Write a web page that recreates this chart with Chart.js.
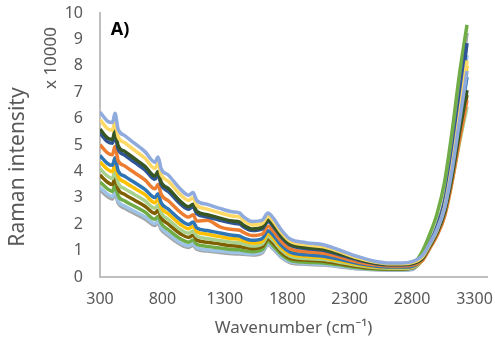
<!DOCTYPE html>
<html>
<head>
<meta charset="utf-8">
<script src="https://cdn.jsdelivr.net/npm/chart.js@4.4.1/dist/chart.umd.min.js"></script>
<style>
  html, body { margin: 0; padding: 0; background: #ffffff; }
  #wrap { width: 495px; height: 349px; }
</style>
</head>
<body>
<div id="wrap"><canvas id="c" width="495" height="349"></canvas></div>
<script>
// ---- data ----
const wavenumbers = [300,360,400,420,445,500,580,660,740,765,790,850,950,1010,1045,1075,1160,1260,1360,1420,1445,1520,1600,1645,1690,1750,1820,1950,2090,2200,2360,2500,2620,2720,2800,2880,2940,3000,3060,3120,3180,3240];

const series1  = [6.25,5.90,5.85,6.20,5.60,5.35,5.05,4.75,4.35,4.55,4.10,3.85,3.30,3.10,3.20,2.90,2.75,2.60,2.47,2.42,2.30,2.10,2.15,2.42,2.22,1.80,1.45,1.30,1.22,1.05,0.78,0.60,0.53,0.53,0.58,0.80,1.25,1.80,2.60,4.05,5.90,7.80];
const series2  = [5.96,5.62,5.56,5.90,5.32,5.08,4.79,4.50,4.11,4.30,3.87,3.62,3.09,2.90,3.00,2.72,2.57,2.43,2.31,2.27,2.16,1.97,2.03,2.30,2.10,1.70,1.36,1.22,1.14,0.99,0.73,0.57,0.50,0.50,0.55,0.75,1.22,1.78,2.65,4.20,6.15,8.20];
const series3  = [5.60,5.27,5.21,5.54,4.98,4.75,4.47,4.19,3.82,4.00,3.59,3.34,2.84,2.66,2.76,2.49,2.36,2.23,2.12,2.08,1.98,1.82,1.88,2.16,1.96,1.57,1.25,1.12,1.05,0.91,0.68,0.53,0.47,0.47,0.51,0.68,1.15,1.68,2.45,3.80,5.50,7.08];
const series4  = [5.45,5.13,5.07,5.39,4.84,4.61,4.33,4.06,3.70,3.88,3.48,3.23,2.74,2.57,2.66,2.40,2.27,2.15,2.04,2.00,1.91,1.76,1.82,2.10,1.90,1.52,1.21,1.08,1.01,0.87,0.65,0.51,0.46,0.46,0.50,0.72,1.25,1.90,2.85,4.50,6.60,8.86];
const series5  = [5.01,4.70,4.63,4.94,4.42,4.20,3.94,3.68,3.34,3.50,3.13,2.88,2.43,2.27,2.36,2.12,2.15,1.90,1.80,1.77,1.70,1.57,1.63,1.92,1.73,1.36,1.07,0.96,0.90,0.78,0.58,0.46,0.42,0.42,0.45,0.62,1.08,1.58,2.30,3.60,5.20,6.70];
const series6  = [4.60,4.30,4.23,4.52,4.03,3.81,3.57,3.32,3.01,3.15,2.81,2.56,2.14,1.99,2.08,1.86,1.76,1.67,1.58,1.55,1.49,1.39,1.46,1.75,1.57,1.21,0.95,0.84,0.79,0.69,0.52,0.42,0.38,0.38,0.41,0.66,1.15,1.72,2.55,4.00,5.80,7.58];
const series7  = [4.36,4.08,3.99,4.28,3.81,3.59,3.35,3.12,2.81,2.95,2.63,2.38,1.97,1.83,1.92,1.72,1.62,1.53,1.45,1.43,1.38,1.29,1.36,1.65,1.47,1.13,0.87,0.78,0.73,0.63,0.48,0.39,0.36,0.36,0.39,0.66,1.16,1.75,2.60,4.10,6.00,8.00];
const series8  = [4.10,3.82,3.73,4.01,3.56,3.34,3.12,2.89,2.60,2.73,2.42,2.17,1.78,1.66,1.74,1.55,1.46,1.38,1.31,1.29,1.25,1.17,1.25,1.54,1.37,1.03,0.79,0.70,0.66,0.58,0.44,0.36,0.33,0.33,0.36,0.62,1.10,1.60,2.30,3.60,5.10,6.44];
const series9  = [3.86,3.59,3.50,3.77,3.33,3.12,2.90,2.68,2.41,2.53,2.24,1.99,1.62,1.50,1.58,1.40,1.32,1.25,1.18,1.16,1.13,1.07,1.15,1.45,1.27,0.95,0.72,0.64,0.60,0.52,0.40,0.33,0.31,0.31,0.34,0.62,1.10,1.62,2.40,3.70,5.35,6.90];
const series10 = [3.60,3.34,3.24,3.50,3.08,2.88,2.67,2.46,2.19,2.30,2.03,1.78,1.43,1.32,1.40,1.24,1.16,1.10,1.04,1.03,1.00,0.96,1.04,1.34,1.17,0.86,0.64,0.56,0.53,0.47,0.36,0.30,0.29,0.29,0.42,0.95,1.60,2.40,3.60,5.50,7.70,9.55];
const series11 = [3.39,3.14,3.04,3.29,2.88,2.68,2.48,2.28,2.02,2.13,1.87,1.62,1.28,1.18,1.26,1.11,1.03,0.98,0.93,0.92,0.90,0.87,0.96,1.26,1.09,0.78,0.58,0.51,0.47,0.42,0.32,0.28,0.27,0.27,0.29,0.68,1.20,1.82,2.75,4.35,6.35,8.40];
const series12 = [3.30,3.05,2.95,3.20,2.80,2.60,2.40,2.20,1.95,2.05,1.80,1.55,1.22,1.12,1.20,1.05,0.98,0.93,0.88,0.87,0.86,0.83,0.92,1.22,1.05,0.75,0.55,0.48,0.45,0.40,0.31,0.27,0.26,0.26,0.28,0.72,1.28,1.95,2.95,4.70,6.95,9.25];

const allSeries = [series1,series2,series3,series4,series5,series6,series7,series8,series9,series10,series11,series12];
const seriesColors = ['#8FAADC','#FFD966','#375623','#2F5597','#ED7D31','#2E75B6','#FFC000','#A9D18E','#7F6000','#70AD47','#9DC3E6','#A5A5A5'];

const xTickValues = [300,800,1300,1800,2300,2800,3300];
const yTickValues = [0,1,2,3,4,5,6,7,8,9,10];

const panelLabel = 'A)';
const yTitleText = 'Raman intensity';
const unitsText = 'x 10000';
const xTitleText = 'Wavenumber (cm\u207B\u00B9)';

// ---- chart ----
const FONT = '"Noto Sans", "DejaVu Sans", sans-serif';
const TEXT_COLOR = '#595959';

const textPlugin = {
  id: 'extraTexts',
  afterDraw(chart) {
    const ctx = chart.ctx;
    const area = chart.chartArea;
    ctx.save();
    ctx.fillStyle = '#000000';
    ctx.font = 'bold 18px ' + FONT;
    ctx.textAlign = 'center';
    ctx.textBaseline = 'middle';
    ctx.fillText(panelLabel, area.left + 20, area.top + 17);

    ctx.fillStyle = TEXT_COLOR;
    ctx.font = '21px ' + FONT;
    ctx.translate(18, 167);
    ctx.rotate(-Math.PI / 2);
    ctx.fillText(yTitleText, 0, 0);
    ctx.restore();

    ctx.save();
    ctx.fillStyle = TEXT_COLOR;
    ctx.font = '17px ' + FONT;
    ctx.textAlign = 'center';
    ctx.textBaseline = 'middle';
    ctx.translate(51, 58);
    ctx.rotate(-Math.PI / 2);
    ctx.fillText(unitsText, 0, 0);
    ctx.restore();
  }
};

const datasets = allSeries.map((s, k) => ({
  data: wavenumbers.map((w, i) => ({ x: w, y: s[i] })),
  borderColor: seriesColors[k],
  backgroundColor: seriesColors[k],
  borderWidth: 3.5,
  pointRadius: 0,
  fill: false,
  cubicInterpolationMode: 'monotone'
}));

new Chart(document.getElementById('c'), {
  type: 'line',
  data: { datasets },
  options: {
    responsive: false,
    animation: false,
    devicePixelRatio: 1,
    layout: { padding: { top: 13, right: 8, left: 0, bottom: 0 } },
    plugins: { legend: { display: false }, tooltip: { enabled: false } },
    scales: {
      x: {
        type: 'linear',
        min: 300,
        max: 3400,
        afterBuildTicks: (scale) => { scale.ticks = xTickValues.map(v => ({ value: v })); },
        afterFit: (scale) => { scale.height = 72; scale.paddingLeft = 0; scale.paddingRight = 0; },
        grid: { display: false, drawTicks: false },
        border: { display: true, color: '#BFBFBF', width: 2 },
        ticks: { color: TEXT_COLOR, font: { family: FONT, size: 16 }, padding: 13, maxRotation: 0, autoSkip: false, callback: (v) => String(v) },
        title: { display: true, text: xTitleText, color: TEXT_COLOR, font: { family: FONT, size: 17 }, padding: { top: 0, bottom: 11 } }
      },
      y: {
        type: 'linear',
        min: 0,
        max: 10,
        afterBuildTicks: (scale) => { scale.ticks = yTickValues.map(v => ({ value: v })); },
        afterFit: (scale) => { scale.width = 100; scale.paddingTop = 0; scale.paddingBottom = 0; },
        grid: { display: false, drawTicks: false },
        border: { display: true, color: '#BFBFBF', width: 2 },
        ticks: { color: TEXT_COLOR, font: { family: FONT, size: 16 }, padding: 17, callback: (v) => String(v) }
      }
    }
  },
  plugins: [textPlugin]
});
</script>
</body>
</html>
